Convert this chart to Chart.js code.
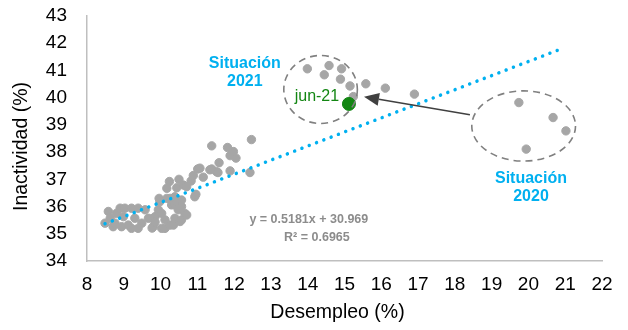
<!DOCTYPE html>
<html>
<head>
<meta charset="utf-8">
<script src="https://cdn.jsdelivr.net/npm/chart.js@4.4.1/dist/chart.umd.min.js"></script>
<style>
  html, body { margin: 0; padding: 0; background: #fff; }
  #wrap { width: 628px; height: 330px; }
</style>
</head>
<body>
<div id="wrap"><canvas id="graficoDispersion"></canvas></div>
<script>
// Desempleo (%) contra Inactividad (%), datos mensuales
const desempleo = [
  8.49, 8.58, 8.63, 8.71, 8.76, 8.80, 8.90, 8.94, 8.99, 9.03, 9.12, 9.21, 9.21, 9.30, 9.39, 9.39,
  9.49, 9.58, 9.67, 9.80, 9.85, 9.77, 9.85, 9.94, 10.03, 10.03, 10.12, 10.12, 10.26, 10.35, 10.39,
  10.48, 10.53, 10.57, 10.66, 10.71, 9.98, 9.96, 10.17, 10.26, 10.30, 10.39, 10.44, 10.57, 10.57,
  10.39, 10.93, 10.96, 10.17, 10.44, 10.62, 10.71, 10.24, 10.50, 10.83, 10.89, 11.16, 11.01, 11.07,
  11.34, 11.39, 11.52, 11.56, 11.89, 12.43, 11.59, 11.89, 12.05, 11.98, 11.82, 11.39, 12.47,
  13.99, 14.58, 14.92, 14.45, 14.89, 15.15, 15.24, 15.58, 16.11, 16.90,
  19.74, 20.67, 21.02, 19.94
];
const inactividad = [
  35.39, 35.82, 35.57, 35.26, 35.39, 35.75, 35.94, 35.26, 35.63, 35.94, 35.32, 35.94, 35.20, 35.57, 35.94, 35.20,
  35.39, 35.88, 35.57, 35.26, 35.63, 35.21, 35.43, 35.88, 35.75, 35.20, 35.51, 35.20, 35.32, 35.32, 35.57,
  35.88, 35.45, 35.51, 35.75, 35.69, 36.18, 36.30, 36.30, 36.30, 36.06, 36.06, 36.18, 36.00, 36.24,
  36.36, 36.36, 36.45, 36.67, 36.69, 36.79, 36.73, 36.92, 37.00, 36.94, 37.14, 37.08, 37.38, 37.41,
  37.35, 37.38, 37.28, 37.25, 37.31, 37.25, 37.61, 37.87, 37.78, 38.02, 38.17, 38.23, 38.46,
  41.06, 41.18, 41.06, 40.84, 40.68, 40.43, 40.04, 40.51, 40.35, 40.13,
  39.82, 39.27, 38.78, 38.11
];

// Último dato destacado
const junioX = [15.12];
const junioY = [39.77];

// Línea de tendencia (extremos)
const tendenciaX = [8.49, 20.85];
const tendenciaY = [35.37, 41.77];

const ejeX = { min: 8, max: 22 };
const ejeY = { min: 34, max: 43 };

const fuente = "'Liberation Sans', Arial, sans-serif";
const cian = '#00B0F0';
const verde = '#138613';

const juntar = (xs, ys) => xs.map((x, i) => ({ x: x, y: ys[i] }));

// Elipses, flecha, textos y títulos de ejes
const anotaciones = {
  id: 'anotaciones',
  afterDatasetsDraw(chart) {
    const { ctx, chartArea, scales: { x, y } } = chart;

    const elipse = (cx, cy, rx, ry) => {
      const px = x.getPixelForValue(cx), py = y.getPixelForValue(cy);
      const rpx = Math.abs(x.getPixelForValue(cx + rx) - px);
      const rpy = Math.abs(y.getPixelForValue(cy + ry) - py);
      ctx.save();
      ctx.beginPath();
      ctx.ellipse(px, py, rpx, rpy, 0, 0, Math.PI * 2);
      ctx.setLineDash([7, 5]);
      ctx.lineWidth = 1.6;
      ctx.strokeStyle = '#808080';
      ctx.stroke();
      ctx.restore();
    };

    const texto = (t, vx, vy, color, font) => {
      ctx.save();
      ctx.fillStyle = color;
      ctx.font = font;
      ctx.textAlign = 'center';
      ctx.textBaseline = 'middle';
      ctx.fillText(t, x.getPixelForValue(vx), y.getPixelForValue(vy));
      ctx.restore();
    };

    elipse(14.35, 40.30, 1.0, 1.25);
    elipse(19.87, 38.96, 1.41, 1.29);

    // flecha de 2020 hacia 2021
    const x1 = x.getPixelForValue(18.41), y1 = y.getPixelForValue(39.37);
    const x2 = x.getPixelForValue(15.53), y2 = y.getPixelForValue(40.03);
    const ang = Math.atan2(y2 - y1, x2 - x1);
    const largo = 15, ancho = 6.5;
    const bx = x2 - largo * Math.cos(ang), by = y2 - largo * Math.sin(ang);
    ctx.save();
    ctx.strokeStyle = '#404040';
    ctx.fillStyle = '#404040';
    ctx.lineWidth = 1.5;
    ctx.beginPath();
    ctx.moveTo(x1, y1);
    ctx.lineTo(bx, by);
    ctx.stroke();
    ctx.beginPath();
    ctx.moveTo(x2, y2);
    ctx.lineTo(bx + ancho * Math.sin(ang), by - ancho * Math.cos(ang));
    ctx.lineTo(bx - ancho * Math.sin(ang), by + ancho * Math.cos(ang));
    ctx.closePath();
    ctx.fill();
    ctx.restore();

    texto('Situación', 12.29, 41.27, cian, 'bold 16px ' + fuente);
    texto('2021', 12.29, 40.58, cian, 'bold 16px ' + fuente);
    texto('Situación', 20.07, 37.01, cian, 'bold 16px ' + fuente);
    texto('2020', 20.07, 36.35, cian, 'bold 16px ' + fuente);
    texto('jun-21', 14.25, 40.05, verde, '16px ' + fuente);
    texto('y = 0.5181x + 30.969', 14.03, 35.52, '#8C8C8C', 'bold 12.5px ' + fuente);
    texto('R² = 0.6965', 14.25, 34.86, '#8C8C8C', 'bold 12.5px ' + fuente);

    // títulos de ejes (Excel los deja algo corridos respecto al área)
    ctx.save();
    ctx.fillStyle = '#000';
    ctx.font = '19.5px ' + fuente;
    ctx.textAlign = 'center';
    ctx.textBaseline = 'middle';
    ctx.fillText('Desempleo (%)', (chartArea.left + chartArea.right) / 2 - 7, 313);
    ctx.translate(22, (chartArea.top + chartArea.bottom) / 2 + 8);
    ctx.rotate(-Math.PI / 2);
    ctx.fillText('Inactividad (%)', 0, 0);
    ctx.restore();
  }
};

new Chart(document.getElementById('graficoDispersion'), {
  type: 'scatter',
  data: {
    datasets: [
      {
        label: 'jun-21',
        data: juntar(junioX, junioY),
        backgroundColor: verde,
        borderColor: verde,
        pointRadius: 6.5,
        order: 0
      },
      {
        label: 'Tendencia',
        type: 'line',
        data: juntar(tendenciaX, tendenciaY),
        borderColor: cian,
        borderWidth: 3.5,
        borderDash: [0.01, 7.8],
        borderCapStyle: 'round',
        pointRadius: 0,
        fill: false,
        order: 1
      },
      {
        label: 'Desempleo vs Inactividad',
        data: juntar(desempleo, inactividad),
        backgroundColor: '#A6A6A6',
        borderColor: '#A6A6A6',
        pointRadius: 4.2,
        order: 2
      }
    ]
  },
  options: {
    responsive: true,
    maintainAspectRatio: false,
    animation: false,
    layout: { padding: { top: 16, right: 26, left: 0, bottom: 0 } },
    plugins: {
      legend: { display: false },
      tooltip: { enabled: false }
    },
    scales: {
      x: {
        type: 'linear',
        min: ejeX.min,
        max: ejeX.max,
        // el espacio hasta las etiquetas va en tickLength (marcas ocultas)
        ticks: { stepSize: 1, autoSkip: false, maxRotation: 0, color: '#000', padding: 0, font: { family: fuente, size: 19 } },
        grid: { display: false, drawTicks: true, tickLength: 12 },
        border: { display: true, color: '#BFBFBF', width: 1.5 },
        afterFit: (scale) => { scale.height = 69; }
      },
      y: {
        min: ejeY.min,
        max: ejeY.max,
        ticks: { stepSize: 1, autoSkip: false, color: '#000', padding: 0, font: { family: fuente, size: 19 } },
        grid: { display: false, drawTicks: true, tickLength: 20 },
        border: { display: true, color: '#BFBFBF', width: 1.5 },
        afterFit: (scale) => { scale.width = 87; }
      }
    }
  },
  plugins: [anotaciones]
});
</script>
</body>
</html>
